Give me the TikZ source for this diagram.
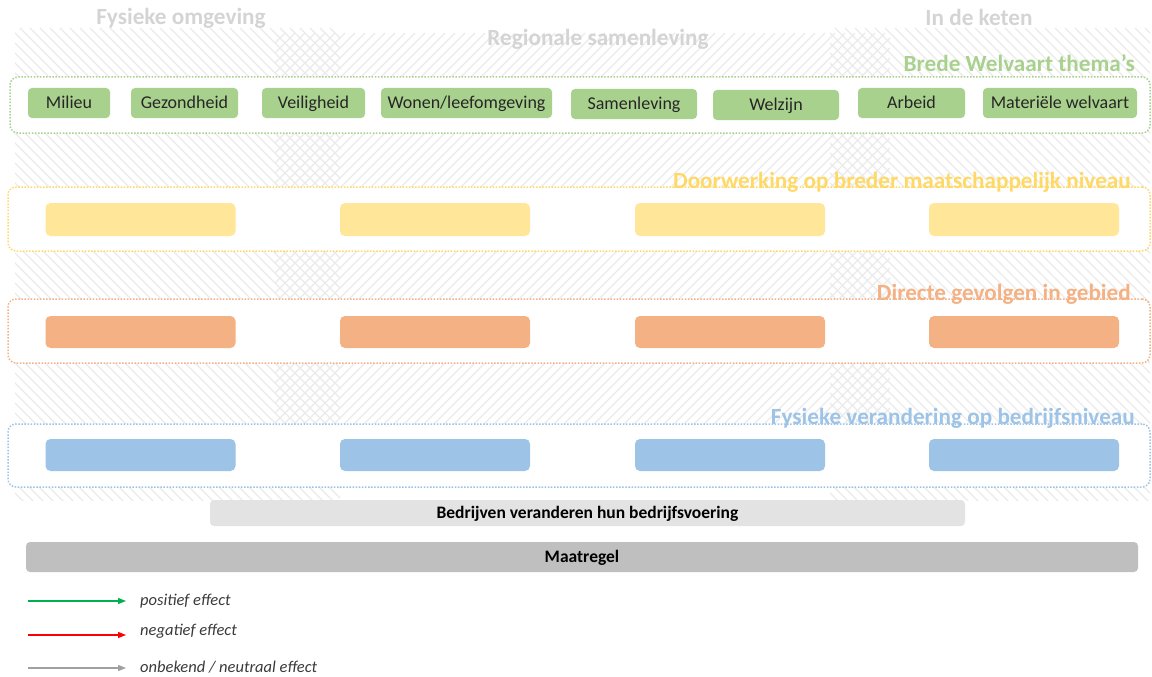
\documentclass[tikz,border=0pt]{standalone}
\usepackage{fontspec}
\setmainfont{Carlito}
\usetikzlibrary{arrows.meta}
\definecolor{bwgreen}{HTML}{A9D18E}
\definecolor{bwyellow}{HTML}{FFE699}
\definecolor{bwyellowT}{HTML}{FFD966}
\definecolor{bworange}{HTML}{F4B183}
\definecolor{bwblue}{HTML}{9DC3E6}
\definecolor{bwgrayA}{HTML}{E3E3E3}
\definecolor{bwgrayB}{HTML}{BFBFBF}
\definecolor{bwtitle}{HTML}{D4D4D4}
\definecolor{bwtext}{HTML}{262626}
\definecolor{bwleg}{HTML}{3A3A3A}
\definecolor{bwhatch}{HTML}{EAEAEA}
\definecolor{arrgreen}{HTML}{00B050}
\definecolor{arrred}{HTML}{FF0000}
\definecolor{arrgray}{HTML}{A0A0A0}
\tikzset{
  hatchline/.style={draw=bwhatch, line width=1.2pt},
  band/.style={rectangle, rounded corners=8pt, fill=white, line width=1.5pt,
    dash pattern=on 1.5pt off 1.6pt, inner sep=0pt, minimum width=1142pt},
  themebox/.style={rectangle, rounded corners=4pt, fill=bwgreen, inner sep=0pt,
    minimum height=30pt, text height=12.5pt, text depth=1.5pt,
    text=bwtext, font=\fontsize{18}{20}\selectfont},
  rowbox/.style={rectangle, rounded corners=5pt, inner sep=0pt,
    minimum width=190pt, minimum height=32pt},
  greybox/.style={rectangle, rounded corners=4pt, inner sep=0pt, text=black,
    text height=12.5pt, text depth=1.5pt,
    font=\bfseries\fontsize{17.5}{19}\selectfont},
  coltitle/.style={text=bwtitle, inner sep=0pt, anchor=base,
    font=\bfseries\fontsize{23.2}{27}\selectfont},
  bandtitle/.style={inner sep=0pt, anchor=base east,
    font=\bfseries\fontsize{23.2}{27}\selectfont},
  legtext/.style={text=bwleg, inner sep=0pt, anchor=base west,
    font=\itshape\fontsize{16.5}{18}\selectfont},
  legarrow/.style={line width=1.2pt, -{Triangle[length=8pt,width=6pt]}}
}
\begin{document}
\begin{tikzpicture}[x=1pt,y=-1pt]
\useasboundingbox (0,0) rectangle (1152,677);
% hatched columns
\begin{scope}
  \clip (15,28) rectangle (340,500);
  \foreach \i in {-460,-450,...,340} \draw[hatchline] (\i,28) -- ++(480,480);
\end{scope}
\begin{scope}
  \clip (275,33) rectangle (890,487);
  \foreach \i in {275,285,...,1370} \draw[hatchline] (\i,33) -- ++(-470,470);
\end{scope}
\begin{scope}
  \clip (830,28) rectangle (1150,500);
  \foreach \i in {355,365,...,1150} \draw[hatchline] (\i,28) -- ++(480,480);
\end{scope}
% column titles
\node[coltitle] (tfys) at (181,25) {Fysieke omgeving};
\node[coltitle] (treg) at (598,46) {Regionale samenleving};
\node[coltitle] (tket) at (979,26) {In de keten};
% bands
\node[band, draw=bwgreen, minimum height=56pt, minimum width=1140pt] (bandG) at (580,105) {};
\node[band, draw=bwyellowT, minimum height=64pt] (bandY) at (579,219) {};
\node[band, draw=bworange, minimum height=64pt] (bandO) at (579,331) {};
\node[band, draw=bwblue, minimum height=63pt] (bandB) at (579,455.5) {};
% band titles
\node[bandtitle, text=bwgreen] (tG) at (1135,71) {Brede Welvaart thema’s};
\node[bandtitle, text=bwyellowT] (tY) at (1131,188) {Doorwerking op breder maatschappelijk niveau};
\node[bandtitle, text=bworange] (tO) at (1131,300) {Directe gevolgen in gebied};
\node[bandtitle, text=bwblue] (tB) at (1135,424) {Fysieke verandering op bedrijfsniveau};
% theme boxes
\node[themebox, minimum width=82pt] (milieu) at (69,103) {Milieu};
\node[themebox, minimum width=107pt] (gezond) at (184.5,103) {Gezondheid};
\node[themebox, minimum width=103pt] (veilig) at (313.5,103) {Veiligheid};
\node[themebox, minimum width=171pt] (wonen) at (466.5,103) {Wonen/leefomgeving};
\node[themebox, minimum width=126pt] (samen) at (634,104) {Samenleving};
\node[themebox, minimum width=126pt] (welzijn) at (776,105) {Welzijn};
\node[themebox, minimum width=107pt] (arbeid) at (911.5,103) {Arbeid};
\node[themebox, minimum width=154pt] (materieel) at (1060,103) {Materiële welvaart};
% row boxes
\foreach \x/\n in {140.5/1,435/2,730/3,1024/4}{
  \node[rowbox, fill=bwyellow, minimum height=33pt] (y\n) at (\x,219.5) {};
  \node[rowbox, fill=bworange] (o\n) at (\x,332) {};
  \node[rowbox, fill=bwblue] (b\n) at (\x,455) {};
}
% bottom boxes
\node[greybox, fill=bwgrayA, minimum width=755pt, minimum height=26pt] (bedr) at (587.5,513) {Bedrijven veranderen hun bedrijfsvoering};
\node[greybox, fill=bwgrayB, minimum width=1112pt, minimum height=30pt] (maat) at (582,557) {Maatregel};
% legend
\coordinate (lg1) at (28,601);
\coordinate (lg2) at (126,601);
\coordinate (lr1) at (28,635);
\coordinate (lr2) at (126,635);
\coordinate (la1) at (28,668);
\coordinate (la2) at (126,668);
\draw[legarrow, draw=arrgreen, fill=arrgreen] (lg1) -- (lg2);
\draw[legarrow, draw=arrred, fill=arrred] (lr1) -- (lr2);
\draw[legarrow, draw=arrgray, fill=arrgray] (la1) -- (la2);
\node[legtext] (lpos) at (140,605) {positief effect};
\node[legtext] (lneg) at (140,635) {negatief effect};
\node[legtext] (lonb) at (140,672) {onbekend / neutraal effect};
\end{tikzpicture}
\end{document}
